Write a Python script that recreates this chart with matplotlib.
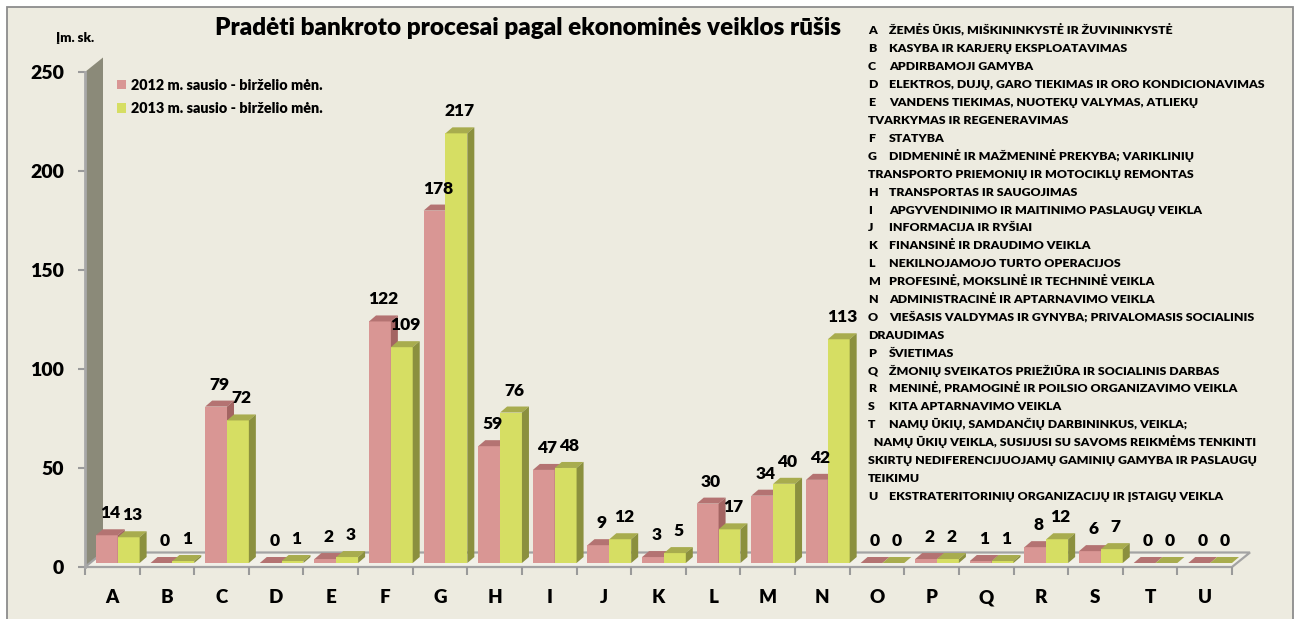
import matplotlib
matplotlib.use("Agg")
import matplotlib.pyplot as plt
from matplotlib.patches import Polygon, Rectangle
from matplotlib.transforms import ScaledTranslation
from matplotlib import font_manager
import numpy as np

# ---------------- data ----------------
categories = list("ABCDEFGHIJKLMNOPQRSTU")
v2012 = [14, 0, 79, 0, 2, 122, 178, 59, 47, 9, 3, 30, 34, 42, 0, 2, 1, 8, 6, 0, 0]
v2013 = [13, 1, 72, 1, 3, 109, 217, 76, 48, 12, 5, 17, 40, 113, 0, 2, 1, 12, 7, 0, 0]
series_labels = ["2012 m. sausio - birželio mėn.", "2013 m. sausio - birželio mėn."]
yticks = [0, 50, 100, 150, 200, 250]
title = "Pradėti bankroto procesai pagal ekonominės veiklos rūšis"
unit_label = "Įm. sk."
legend_lines = [
    ("A", "ŽEMĖS ŪKIS, MIŠKININKYSTĖ IR ŽUVININKYSTĖ"),
    ("B", "KASYBA IR KARJERŲ EKSPLOATAVIMAS"),
    ("C", "APDIRBAMOJI GAMYBA"),
    ("D", "ELEKTROS, DUJŲ, GARO TIEKIMAS IR ORO KONDICIONAVIMAS"),
    ("E", "VANDENS TIEKIMAS, NUOTEKŲ VALYMAS, ATLIEKŲ"),
    ("", "TVARKYMAS IR REGENERAVIMAS"),
    ("F", "STATYBA"),
    ("G", "DIDMENINĖ IR MAŽMENINĖ PREKYBA; VARIKLINIŲ"),
    ("", "TRANSPORTO PRIEMONIŲ IR MOTOCIKLŲ REMONTAS"),
    ("H", "TRANSPORTAS IR SAUGOJIMAS"),
    ("I", "APGYVENDINIMO IR MAITINIMO PASLAUGŲ VEIKLA"),
    ("J", "INFORMACIJA IR RYŠIAI"),
    ("K", "FINANSINĖ IR DRAUDIMO VEIKLA"),
    ("L", "NEKILNOJAMOJO TURTO OPERACIJOS"),
    ("M", "PROFESINĖ, MOKSLINĖ IR TECHNINĖ VEIKLA"),
    ("N", "ADMINISTRACINĖ IR APTARNAVIMO VEIKLA"),
    ("O", "VIEŠASIS VALDYMAS IR GYNYBA; PRIVALOMASIS SOCIALINIS"),
    ("", "DRAUDIMAS"),
    ("P", "ŠVIETIMAS"),
    ("Q", "ŽMONIŲ SVEIKATOS PRIEŽIŪRA IR SOCIALINIS DARBAS"),
    ("R", "MENINĖ, PRAMOGINĖ IR POILSIO ORGANIZAVIMO VEIKLA"),
    ("S", "KITA APTARNAVIMO VEIKLA"),
    ("T", "NAMŲ ŪKIŲ, SAMDANČIŲ DARBININKUS, VEIKLA;"),
    ("", "  NAMŲ ŪKIŲ VEIKLA, SUSIJUSI SU SAVOMS REIKMĖMS TENKINTI"),
    ("", "SKIRTŲ NEDIFERENCIJUOJAMŲ GAMINIŲ GAMYBA IR PASLAUGŲ"),
    ("", "TEIKIMU"),
    ("U", "EKSTRATERITORINIŲ ORGANIZACIJŲ IR ĮSTAIGŲ VEIKLA"),
]

# ---------------- style ----------------
avail = {f.name for f in font_manager.fontManager.ttflist}
FONT = ["Lato", "DejaVu Sans"] if "Lato" in avail else ["DejaVu Sans"]
plt.rcParams["font.family"] = FONT
WT = "heavy"
plt.rcParams["font.weight"] = WT

BG = "#EDEBE0"
PINK_F, PINK_T, PINK_S = "#D99694", "#B47372", "#A36462"
YEL_F, YEL_T, YEL_S = "#D6DE63", "#A8AC4E", "#8B903E"
WALL = "#8B8A79"
GRID_GRAY = "#9A9A9A"

W, H = 1299, 619
fig = plt.figure(figsize=(W / 100, H / 100), dpi=100)
fig.patch.set_facecolor("white")
fig.add_artist(Rectangle((7 / W, -0.02), (1293 - 7) / W, (H - 7) / H + 0.02,
                         transform=fig.transFigure, facecolor=BG,
                         edgecolor="#8C8C8C", linewidth=1.3, zorder=-10))

ax_left, ax_right, ax_bottom, ax_top = 85, 1232, 567, 72
ax = fig.add_axes([ax_left / W, (H - ax_bottom) / H,
                   (ax_right - ax_left) / W, (ax_bottom - ax_top) / H])
ax.set_facecolor("none")
n = len(categories)
x = np.arange(n)
ax.set_xlim(-0.5, n - 0.5)
ax.set_ylim(0, 250)

axw_px = ax_right - ax_left
axh_px = ax_bottom - ax_top
dpx_x = n / axw_px            # data units per pixel (x)
dpx_y = 250 / axh_px          # data units per pixel (y)

# back wall and floor (3-D look)
wx, wy = 18 / axw_px, 14.5 / axh_px
ax.add_patch(Polygon([(0, 0), (0, 1), (wx, 1 + wy), (wx, wy)], closed=True,
                     transform=ax.transAxes, facecolor=WALL, edgecolor="none",
                     clip_on=False, zorder=1))
ax.add_patch(Polygon([(0, 0), (1, 0), (1 + wx, wy), (wx, wy)], closed=True,
                     transform=ax.transAxes, facecolor="#F1F0E8",
                     edgecolor="#A3A3A3", linewidth=1.6,
                     clip_on=False, zorder=1.5))

# bars (lifted slightly above the floor front edge)
lift = ax.transData + ScaledTranslation(0, 4 / 100, fig.dpi_scale_trans)
bw = 0.40
ddx, ddy = 7 * dpx_x, 6 * dpx_y

b12 = ax.bar(x - 0.30, v2012, width=bw, align="edge", color=PINK_F,
             transform=lift, zorder=3, label=series_labels[0], clip_on=False)
b13 = ax.bar(x + 0.10, v2013, width=bw, align="edge", color=YEL_F,
             transform=lift, zorder=3.2, label=series_labels[1], clip_on=False)


def depth_faces(xl, v, top_c, side_c, z):
    xr = xl + bw
    ax.add_patch(Polygon([(xl, v), (xr, v), (xr + ddx, v + ddy), (xl + ddx, v + ddy)],
                         closed=True, transform=lift, facecolor=top_c,
                         edgecolor="none", zorder=z, clip_on=False))
    ax.add_patch(Polygon([(xr, 0), (xr, v), (xr + ddx, v + ddy), (xr + ddx, ddy)],
                         closed=True, transform=lift, facecolor=side_c,
                         edgecolor="none", zorder=z, clip_on=False))


for i in range(n):
    depth_faces(x[i] - 0.30, v2012[i], PINK_T, PINK_S, 3.1)
    depth_faces(x[i] + 0.10, v2013[i], YEL_T, YEL_S, 3.3)

# value labels
for i in range(n):
    for xl, v in ((x[i] - 0.30, v2012[i]), (x[i] + 0.10, v2013[i])):
        ax.annotate(str(v), xy=(xl + bw / 2 + ddx / 2, v), xycoords=lift,
                    xytext=(0, 22 * 0.72), textcoords="offset points",
                    ha="center", va="center", fontsize=12.5, fontweight=WT,
                    color="black", zorder=5, annotation_clip=False)

# axes styling
for s in ("top", "right", "bottom"):
    ax.spines[s].set_visible(False)
ax.spines["left"].set_color("#A8A8A8")
ax.spines["left"].set_linewidth(2)
ax.spines["left"].set_zorder(2)
ax.set_yticks(yticks)
ax.set_yticklabels([str(t) for t in yticks], fontsize=14, fontweight=WT)
ax.tick_params(axis="y", length=5, width=1.5, color=GRID_GRAY, pad=10)
ax.set_xticks(x)
ax.set_xticklabels(categories, fontsize=13.5, fontweight=WT)
ax.set_xticks(np.arange(-0.5, n, 1.0), minor=True)
ax.tick_params(axis="x", which="major", length=0, pad=16)
ax.tick_params(axis="x", which="minor", length=5.5, width=1.5, color=GRID_GRAY)

# series legend
fig.legend(handles=[b12, b13], labels=series_labels, loc="upper left",
           bbox_to_anchor=(104 / W, 1 - 66 / H), frameon=False,
           handlelength=0.6, handleheight=0.6, handletextpad=0.35,
           labelspacing=0.7, prop={"weight": WT, "size": 10.4})

# unit label and title
fig.text(75 / W, 1 - 38 / H, unit_label, ha="center", va="center",
         fontsize=9.5, fontweight=WT)
t = fig.text(528 / W, 1 - 28 / H, title, ha="center", va="center",
             fontsize=15, fontweight=WT)

renderer = fig.canvas.get_renderer()
tw = t.get_window_extent(renderer).width
t.set_fontsize(15 * 630 / tw)

# category description list
probe = fig.text(0, 0, legend_lines[3][1], fontsize=8.5, fontweight=WT)
pw = probe.get_window_extent(renderer).width
probe.remove()
lfs = 8.5 * 378 / pw

for k, (letter, desc) in enumerate(legend_lines):
    yy = 1 - (30 + 17.9 * k + 4.5) / H
    if letter:
        fig.text(868 / W, yy, letter, ha="left", va="baseline", fontsize=lfs,
                 fontweight=WT)
        fig.text(889 / W, yy, desc, ha="left", va="baseline", fontsize=lfs,
                 fontweight=WT)
    else:
        fig.text(868 / W, yy, desc, ha="left", va="baseline", fontsize=lfs,
                 fontweight=WT)

fig.savefig("out.png", dpi=100, facecolor=fig.get_facecolor())
